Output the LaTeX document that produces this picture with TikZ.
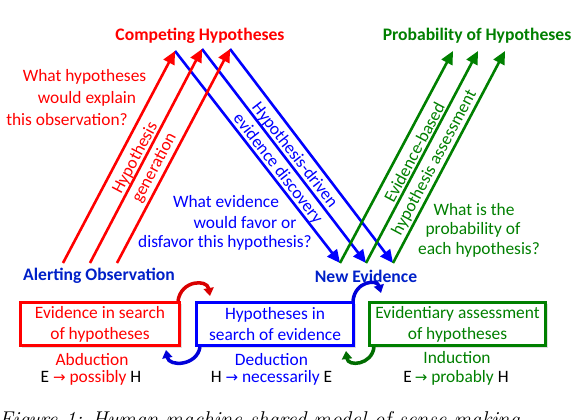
\documentclass[tikz,border=0pt]{standalone}
\usepackage{fontspec}
\newfontfamily\calfont{Carlito}
\newfontfamily\dvsfont{DejaVu Sans}
\usetikzlibrary{arrows.meta,shadows}
\definecolor{cred}{RGB}{255,0,0}
\definecolor{cblue}{RGB}{0,0,255}
\definecolor{cgreen}{RGB}{0,128,0}
\definecolor{dblue}{RGB}{0,32,200}
\newcommand{\rar}{{\dvsfont\fontsize{15}{17}\selectfont →}}
\begin{document}
\begin{tikzpicture}[x=1pt,y=-1pt,
  txt/.style={font=\calfont\fontsize{17.4}{20}\selectfont, inner sep=0pt},
  rtxt/.style={font=\calfont\fontsize{17.4}{21.5}\selectfont, inner sep=0pt, align=center},
  ttl/.style={font=\calfont\bfseries\fontsize{17.6}{20}\selectfont, inner sep=0pt},
  arr/.style={line width=2.6pt, -{Triangle[length=13pt,width=12pt]}},
  box/.style={line width=2.6pt, minimum height=43.4pt, inner sep=0pt, align=center,
    font=\calfont\fontsize{17.4}{21}\selectfont, fill=white,
    drop shadow={opacity=0.25, shadow xshift=2pt, shadow yshift=-2pt}},
  carr/.style={line width=3.5pt, -{Triangle[length=8pt,width=10pt]}}
]
\clip (0,0) rectangle (576,420);
\fill[white] (0,0) rectangle (576,420);

% titles
\node[ttl, text=cred] (ch) at (200,36) {Competing Hypotheses};
\node[ttl, text=cgreen] (ph) at (477,36) {Probability of Hypotheses};
\node[ttl, text=dblue] (ao) at (99,276) {Alerting Observation};
\node[ttl, text=dblue] (ne) at (366,276) {New Evidence};

% end points
\coordinate (a1) at (63,263); \coordinate (a2) at (90,263); \coordinate (a3) at (117,263);
\coordinate (r1) at (175,51); \coordinate (r2) at (202,49); \coordinate (r3) at (230,49);
\coordinate (b1) at (340,263); \coordinate (b2) at (366,263); \coordinate (b3) at (393,263);
\coordinate (g1) at (453,51); \coordinate (g2) at (478,51); \coordinate (g3) at (505,51);

% blue arrows
\foreach \i in {1,2,3} \draw[arr, cblue] (r\i) -- (b\i);
% red arrows
\foreach \i in {1,2,3} \draw[arr, cred] (a\i) -- (r\i);
% green arrows
\foreach \i in {1,2,3} \draw[arr, cgreen] (b\i) -- (g\i);

% rotated labels
\node[rtxt, text=cred, rotate=62] (hg) at (145,163) {Hypothesis\\generation};
\node[rtxt, text=cblue, rotate=-52] (hd) at (286,162) {Hypothesis-driven\\evidence discovery};
\node[rtxt, text=cgreen, rotate=62] (eb) at (425,158) {Evidence-based\\hypothesis assessment};

% questions
\node[txt, text=cred] (q1a) at (84.5,77) {What hypotheses};
\node[txt, text=cred] (q1b) at (87,99) {would explain};
\node[txt, text=cred] (q1c) at (67,120) {this observation?};
\node[txt, text=cblue] (q2a) at (226,202) {What evidence};
\node[txt, text=cblue] (q2b) at (245,223) {would favor or};
\node[txt, text=cblue] (q2c) at (225,243) {disfavor this hypothesis?};
\node[txt, text=cgreen] (q3a) at (474,210) {What is the};
\node[txt, text=cgreen] (q3b) at (473,230) {probability of};
\node[txt, text=cgreen] (q3c) at (479,250) {each hypothesis?};

% boxes
\node[box, draw=cred, text=cred, minimum width=159.4pt] (rb) at (100,324) {Evidence in search\\of hypotheses};
\node[box, draw=cblue, text=cblue, minimum width=157.4pt] (bb) at (275,324) {Hypotheses in\\search of evidence};
\node[box, draw=cgreen, text=cgreen, minimum width=176.4pt] (gb) at (457.5,324) {Evidentiary assessment\\of hypotheses};

% bottom labels
\node[txt, text=cred] (abd) at (92,360) {Abduction};
\node[txt] (abf) at (91,378) {E \textcolor{cred}{\rar\ possibly} H};
\node[txt, text=cblue] (ded) at (271.5,360) {Deduction};
\node[txt] (def) at (271.5,378) {H \textcolor{cblue}{\rar\ necessarily} E};
\node[txt, text=cgreen] (ind) at (457,358) {Induction};
\node[txt] (inf) at (456,378) {E\,\textcolor{cgreen}{\rar\ probably} H};

% cycle arrows
\draw[carr, cred!85!black] ([xshift=-3pt]rb.north east) .. controls +(3,-21) and +(-3,-17) .. ([xshift=15pt,yshift=5pt]bb.north west);
\draw[carr, cblue!85!black] ([xshift=5pt]bb.south west) .. controls +(-3,19) and +(3,17) .. ([xshift=-15pt,yshift=-3pt]rb.south east);
\draw[carr, cblue!85!black] ([xshift=-2pt]bb.north east) .. controls +(2,-20) and +(-4,-14) .. ([xshift=13pt,yshift=8pt]gb.north west);
\draw[carr, cgreen!85!black] ([xshift=6pt]gb.south west) .. controls +(-2,18) and +(2,16) .. ([xshift=-9pt,yshift=-4pt]bb.south east);

% caption (cut by the frame)
\node[anchor=base west, inner sep=0pt, font=\itshape\fontsize{21.4}{25}\selectfont] (cap) at (-1,426.6) {Figure 1: Human-machine shared model of sense making};
\end{tikzpicture}
\end{document}
